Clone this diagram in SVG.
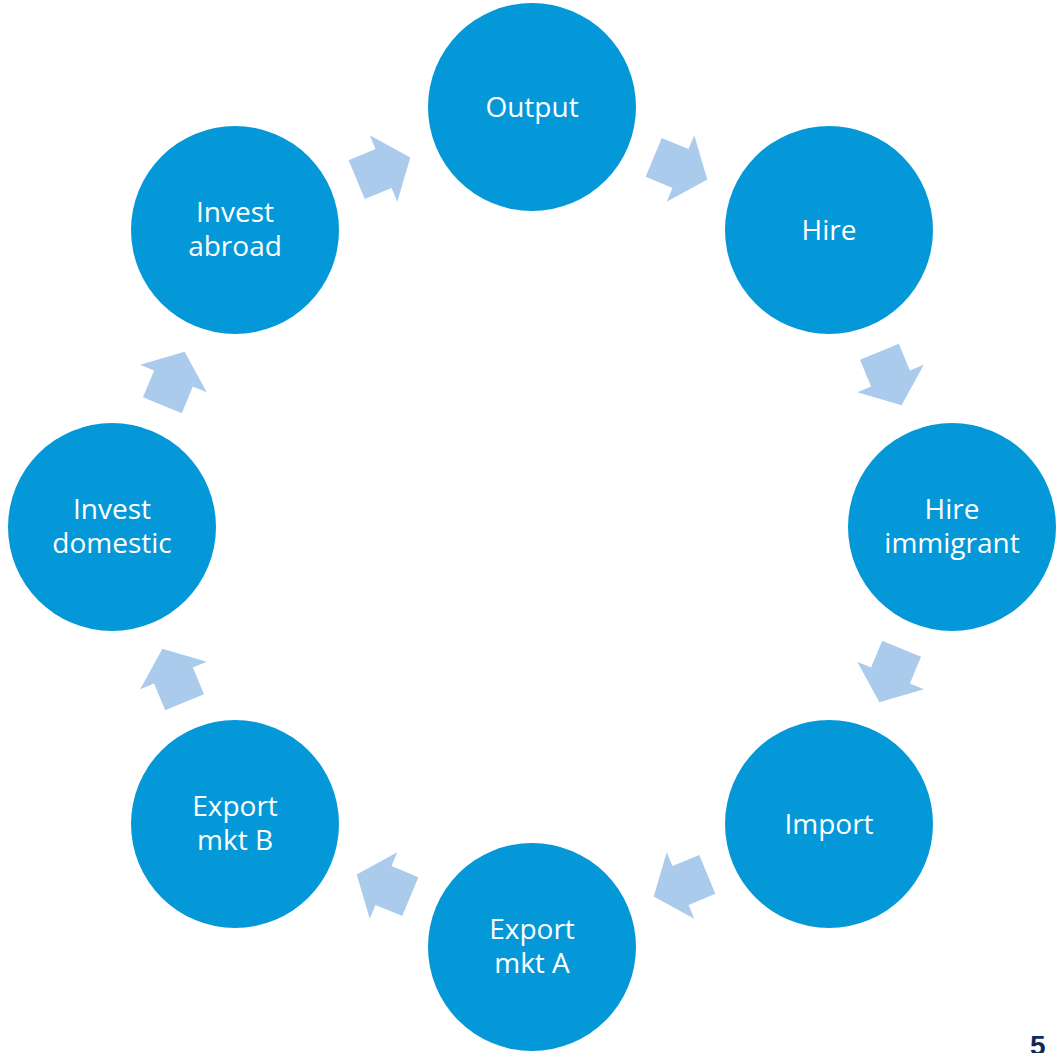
<svg xmlns="http://www.w3.org/2000/svg" width="1063" height="1053" viewBox="0 0 1063 1053">
<defs>
<style>
.node circle{fill:#0598D8;}
.node text{fill:#FFFFFF;font-family:"Open Sans","Liberation Sans",sans-serif;font-size:28px;text-anchor:middle;}
.arr{fill:#AACBEB;}
.pg{fill:#0E2B5C;font-family:"Liberation Sans",Arial,sans-serif;font-size:28px;font-weight:bold;}
</style>
<polygon id="arrow" points="-29,-21 0,-21 0,-36 29,0 0,36 0,21 -29,21"/>
</defs>
<rect width="1063" height="1053" fill="#FFFFFF"/>
<g id="connectors">
<use href="#arrow" class="arr" transform="translate(680.5,168.5) rotate(22.5)"/>
<use href="#arrow" class="arr" transform="translate(890.5,378.5) rotate(67.5)"/>
<use href="#arrow" class="arr" transform="translate(890.5,675.5) rotate(112.5)"/>
<use href="#arrow" class="arr" transform="translate(680.5,885.5) rotate(157.5)"/>
<use href="#arrow" class="arr" transform="translate(383.5,885.5) rotate(202.5)"/>
<use href="#arrow" class="arr" transform="translate(173.5,675.5) rotate(247.5)"/>
<use href="#arrow" class="arr" transform="translate(173.5,378.5) rotate(292.5)"/>
<use href="#arrow" class="arr" transform="translate(383.5,168.5) rotate(337.5)"/>
</g>
<g id="output" class="node"><circle cx="532" cy="107" r="104"/><text x="532" y="117">Output</text></g>
<g id="hire" class="node"><circle cx="829" cy="230" r="104"/><text x="829" y="240">Hire</text></g>
<g id="hire-immigrant" class="node"><circle cx="952" cy="527" r="104"/><text x="952" y="519">Hire</text><text x="952" y="553">immigrant</text></g>
<g id="import" class="node"><circle cx="829" cy="824" r="104"/><text x="829" y="834">Import</text></g>
<g id="export-a" class="node"><circle cx="532" cy="947" r="104"/><text x="532" y="939">Export</text><text x="532" y="973">mkt A</text></g>
<g id="export-b" class="node"><circle cx="235" cy="824" r="104"/><text x="235" y="816">Export</text><text x="235" y="850">mkt B</text></g>
<g id="invest-domestic" class="node"><circle cx="112" cy="527" r="104"/><text x="112" y="519">Invest</text><text x="112" y="553">domestic</text></g>
<g id="invest-abroad" class="node"><circle cx="235" cy="230" r="104"/><text x="235" y="222">Invest</text><text x="235" y="256">abroad</text></g>
<text class="pg" x="1030" y="1055">5</text>
</svg>
